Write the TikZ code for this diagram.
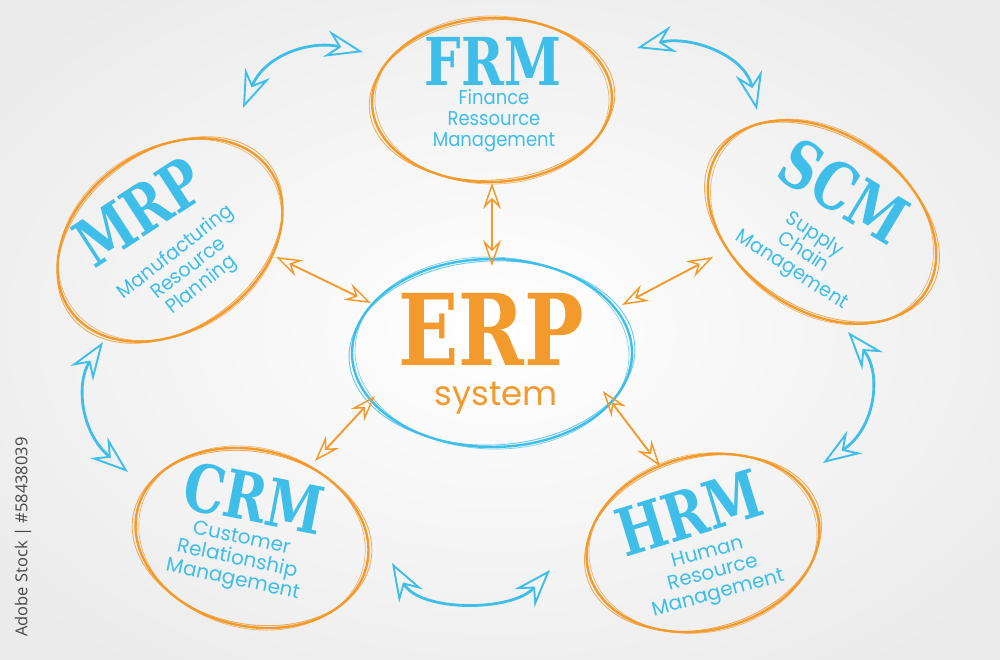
\documentclass[tikz,border=0pt]{standalone}
\usepackage{fontspec}
\usetikzlibrary{arrows.meta,shapes.geometric}
\newfontfamily\slab{DejaVu Serif}
\newfontfamily\hand{Poppins}
\newfontfamily\wmfont{Open Sans}
\definecolor{myblue}{RGB}{62,190,232}
\definecolor{myorange}{RGB}{243,154,45}
\newcommand\sketchE[6]{%
 \draw[#6, line width=0.9pt, opacity=0.8, rotate around={#5+2.5:(#1,#2)}] (#1,#2) ellipse [x radius=#3pt+3pt, y radius=#4pt-2pt];
 \draw[#6, line width=0.7pt, opacity=0.7, rotate around={#5-2:(#1,#2)}] (#1,#2) ellipse [x radius=#3pt-3pt, y radius=#4pt+2pt];}
\tikzset{
 oell/.style={draw=myorange, line width=2.4pt, ellipse, inner sep=0pt},
 bell/.style={draw=myblue, line width=2.4pt, ellipse, inner sep=0pt},
 big/.style={text=myblue, inner sep=0pt, font={\slab\bfseries\fontsize{66}{66}\selectfont}},
 sub/.style={text=myblue, inner sep=0pt, align=center, font={\hand\fontsize{20}{21}\selectfont}},
 tipo/.tip={Stealth[open, length=26pt, width=18pt, inset=9pt, line width=1.5pt]},
 tipb/.tip={Stealth[open, length=38pt, width=27pt, inset=13pt, line width=1.9pt]},
 oarrow/.style={myorange, line width=1.9pt, tipo-tipo},
 barrow/.style={myblue, line width=2.8pt, tipb-tipb},
}
\begin{document}
\begin{tikzpicture}[x=1pt,y=-1pt]
\useasboundingbox (0,0) rectangle (1000,659);
\shade[inner color=white, outer color=black!8] (-150,-100) rectangle (1150,759);
% ellipses
\node[oell, minimum width=240pt, minimum height=164pt, rotate=2] (frm) at (492,100) {};
\sketchE{492}{100}{120}{82}{2}{myorange}
\node[oell, minimum width=244pt, minimum height=180pt, rotate=35] (mrp) at (170,240) {};
\sketchE{170}{240}{122}{90}{35}{myorange}
\node[oell, minimum width=250pt, minimum height=176pt, rotate=-35] (scm) at (822,222) {};
\sketchE{822}{222}{125}{88}{-35}{myorange}
\node[bell, minimum width=280pt, minimum height=188pt] (erp) at (492,353) {};
\sketchE{492}{353}{140}{94}{0}{myblue}
\node[oell, minimum width=236pt, minimum height=176pt, rotate=-14] (crm) at (252,538) {};
\sketchE{252}{538}{118}{88}{-14}{myorange}
\node[oell, minimum width=236pt, minimum height=174pt, rotate=14] (hrm) at (703,543) {};
\sketchE{703}{543}{118}{87}{14}{myorange}
% texts
\node[big, xscale=0.78] (frmT) at (493,61) {FRM};
\node[sub, xscale=0.9] (frmS) at (494,121) {Finance\\Ressource\\Management};
\node[big, rotate=33, xscale=0.78] (mrpT) at (139,212) {MRP};
\node[sub, rotate=38, xscale=0.95] (mrpS) at (189,269) {Manufacturing\\Resource\\Planning};
\node[big, rotate=-31, xscale=0.78] (scmT) at (844,191) {SCM};
\node[sub, rotate=-33, xscale=0.95] (scmS) at (803,253) {Supply\\Chain\\Management};
\node[big, text=myorange, xscale=0.8, font={\slab\bfseries\fontsize{99}{99}\selectfont}] (erpT) at (491,329) {ERP};
\node[text=myorange, inner sep=0pt, font={\hand\fontsize{34}{34}\selectfont}] (erpS) at (496,398) {system};
\node[big, rotate=-11, xscale=0.78] (crmT) at (254,498) {CRM};
\node[sub, rotate=-12] (crmS) at (237,560) {Customer\\Relationship\\Management};
\node[big, rotate=17, xscale=0.78] (hrmT) at (689,513) {HRM};
\node[sub, rotate=15] (hrmS) at (713,574) {Human\\Resource\\Management};
% orange arrows
\coordinate (a1) at (492,183); \coordinate (a2) at (492,266);
\coordinate (b1) at (276,257); \coordinate (b2) at (371,303);
\coordinate (c1) at (713,257); \coordinate (c2) at (622,305);
\coordinate (d1) at (375,396); \coordinate (d2) at (315,461);
\coordinate (e1) at (603,391); \coordinate (e2) at (660,466);
\draw[oarrow] (a1) -- (a2);
\draw[oarrow] (b1) -- (b2);
\draw[oarrow] (c1) -- (c2);
\draw[oarrow] (d1) -- (d2);
\draw[oarrow] (e1) -- (e2);
% blue curved arrows
\coordinate (f1) at (243,108); \coordinate (f2) at (363,52);
\coordinate (g1) at (637,48); \coordinate (g2) at (757,110);
\coordinate (h1) at (103,342); \coordinate (h2) at (128,472);
\coordinate (i1) at (848,332); \coordinate (i2) at (823,463);
\coordinate (j1) at (392,563); \coordinate (j2) at (550,570);
\draw[barrow] (f1) .. controls (265,55) and (310,40) .. (f2);
\draw[barrow] (g1) .. controls (690,35) and (745,55) .. (g2);
\draw[barrow] (h1) .. controls (76,382) and (80,432) .. (h2);
\draw[barrow] (i1) .. controls (882,372) and (876,428) .. (i2);
\draw[barrow] (j1) .. controls (420,612) and (512,612) .. (j2);
% watermark
\node[rotate=90, text=black!72, inner sep=0pt, font={\wmfont\fontsize{16.5}{16.5}\selectfont}] (wm) at (23,537) {Adobe Stock | \#58438039};
\end{tikzpicture}
\end{document}
